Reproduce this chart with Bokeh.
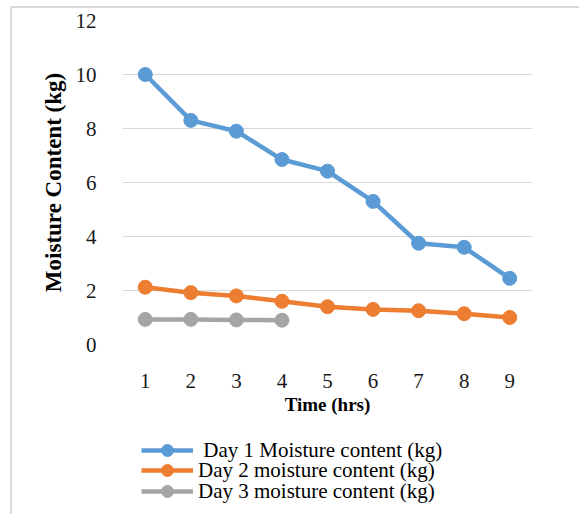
from bokeh.plotting import figure
from bokeh.models import Legend, LegendItem, FixedTicker, Range1d
from bokeh.layouts import column
from bokeh.embed import file_html
from bokeh.resources import INLINE

hours = [1, 2, 3, 4, 5, 6, 7, 8, 9]
day1 = [10.0, 8.3, 7.9, 6.85, 6.42, 5.3, 3.75, 3.6, 2.45]
day2 = [2.12, 1.92, 1.8, 1.6, 1.4, 1.3, 1.25, 1.14, 1.0]
day3_hours = [1, 2, 3, 4]
day3 = [0.93, 0.93, 0.91, 0.9]
y_ticks = [0, 2, 4, 6, 8, 10, 12]
labels = [" Day 1 Moisture content (kg)", "Day 2 moisture content (kg)", "Day 3 moisture content (kg)"]
colors = ["#5B9BD5", "#ED7D31", "#A5A5A5"]

FONT = "Liberation Serif"

p = figure(width=567, height=422, output_backend="svg", toolbar_location=None,
           x_range=Range1d(0.5, 9.5), y_range=Range1d(0, 12),
           min_border_left=110, min_border_right=47, min_border_top=12, min_border_bottom=86)
p.outline_line_color = None
p.background_fill_color = "white"
p.border_fill_color = "white"

p.xgrid.grid_line_color = None
p.ygrid.grid_line_color = "#d9d9d9"
p.ygrid.grid_line_width = 1

p.yaxis.ticker = FixedTicker(ticks=y_ticks)
p.xaxis.ticker = FixedTicker(ticks=hours)
for ax in (p.xaxis[0], p.yaxis[0]):
    ax.axis_line_color = None
    ax.major_tick_line_color = None
    ax.minor_tick_line_color = None
    ax.major_label_text_font = FONT
    ax.major_label_text_font_size = "21px"
    ax.major_label_text_color = "#1a1a1a"
    ax.axis_label_text_font = FONT
    ax.axis_label_text_font_style = "bold"
    ax.axis_label_text_color = "#000000"

p.xaxis.axis_label = "Time (hrs)"
p.yaxis.axis_label = "Moisture Content (kg)"
p.xaxis.axis_label_text_font_size = "19px"
p.yaxis.axis_label_text_font_size = "23px"
p.yaxis.major_label_standoff = 20
p.xaxis.major_label_standoff = 23
p.yaxis.axis_label_standoff = 7
p.xaxis.axis_label_standoff = 3

series = [(hours, day1), (hours, day2), (day3_hours, day3)]
for (xs, ys), c in zip(series, colors):
    p.line(xs, ys, line_color=c, line_width=4.5)
    p.scatter(xs, ys, marker="circle", size=14, fill_color=c, line_color=c)

# Legend panel below the chart (its own ranges keep the series out of view;
# only the legend entries show)
lg = figure(width=567, height=84, output_backend="svg", toolbar_location=None,
            x_range=Range1d(100, 101), y_range=Range1d(100, 101),
            x_axis_location=None, y_axis_location=None,
            min_border_left=110, min_border_right=47,
            min_border_top=0, min_border_bottom=0)
lg.outline_line_color = None
lg.grid.grid_line_color = None
lg.background_fill_color = "white"
lg.border_fill_color = "white"

row_bottoms = [49, 29, 8]
for (xs, ys), c, lab, vy in zip(series, colors, labels, row_bottoms):
    l = lg.line(xs, ys, line_color=c, line_width=4.5)
    s = lg.scatter(xs, ys, marker="circle", size=12, fill_color=c, line_color=c)
    leg = Legend(items=[LegendItem(label=lab, renderers=[l, s])], location=(19, vy))
    leg.border_line_color = None
    leg.background_fill_alpha = 0
    leg.label_text_font = FONT
    leg.label_text_font_size = "21px"
    leg.label_text_color = "#000000"
    leg.glyph_width = 52
    leg.glyph_height = 30
    leg.label_height = 30
    leg.label_standoff = 5
    leg.padding = 0
    leg.margin = 0
    lg.add_layout(leg, "center")

layout = column(p, lg, spacing=0, margin=(6, 0, 0, 10),
                styles={"border-left": "2px solid #d9d9d9", "border-top": "2px solid #d9d9d9"})

open("out.html", "w").write(file_html(layout, INLINE))
